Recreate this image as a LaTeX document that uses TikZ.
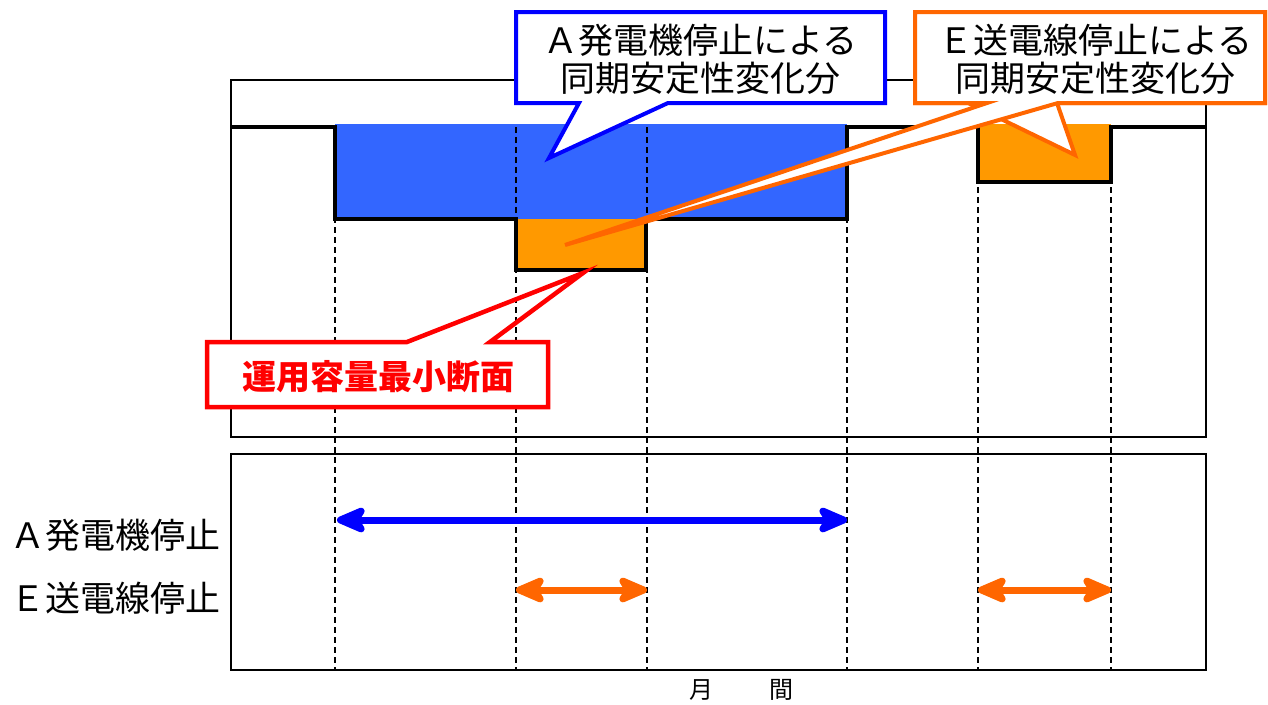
\documentclass[tikz,border=0pt]{standalone}
\usepackage{fontspec}
\setmainfont{Noto Sans CJK JP}
\usetikzlibrary{arrows.meta}

\definecolor{blockblue}{HTML}{3366FF}
\definecolor{blockorange}{HTML}{FF9900}
\definecolor{lineorange}{HTML}{FF6600}
\definecolor{pureblue}{HTML}{0000FF}
\definecolor{purered}{HTML}{FF0000}

\tikzset{
	frame/.style={line width=1.6pt,black},
	guide/.style={line width=2pt,dash pattern=on 6pt off 4pt,black},
	stepline/.style={line width=4.5pt,black,line join=miter},
	callout/.style={line width=4pt,line join=miter},
	headtip/.tip={Stealth[length=38pt,width=32pt,inset=10pt,round]},
	span/.style={line width=7pt,headtip-headtip},
	lbl/.style={font=\fontsize{35}{38}\selectfont,inner sep=0pt,align=center},
}

\begin{document}
\begin{tikzpicture}[x=1pt,y=-1pt]
	\useasboundingbox (0,0) rectangle (1268,704);
	
	% the two frames
	\draw[frame] (231,80) rectangle (1206,437);
	\draw[frame] (231,454) rectangle (1206,670);
	
	% shaded reductions
	\fill[blockblue] (335,124) rectangle (847,219);
	\fill[blockorange] (516,219) rectangle (646,270);
	\fill[blockorange] (978,124) rectangle (1111,182);
	
	\foreach \x in {335,516,647,847,978,1111}{% one guide per boundary
		\draw[guide] (\x,127) -- (\x,670);
	}
	
	\draw[stepline] (231,127) -- (335,127) -- (335,219) -- (516,219)
		-- (516,270) -- (646,270) -- (646,219) -- (847,219) -- (847,127)
		-- (978,127) -- (978,182) -- (1111,182) -- (1111,127) -- (1206,127);
	
	% outage spans
	\coordinate (Astart) at (337,520);
	\coordinate (Aend) at (847,520);
	\coordinate (Eonestart) at (516,590);
	\coordinate (Eoneend) at (647,590);
	\coordinate (Etwostart) at (978,590);
	\coordinate (Etwoend) at (1111,590);
	
	\draw[span,pureblue] (Astart) -- (Aend);
	\draw[span,lineorange] (Eonestart) -- (Eoneend);
	\draw[span,lineorange] (Etwostart) -- (Etwoend);
	
	\node[lbl,anchor=west] (Alabel) at (10,535) {Ａ発電機停止};
	\node[lbl,anchor=west] (Elabel) at (10,598) {Ｅ送電線停止};
	\node[font=\fontsize{24}{28}\selectfont,inner sep=0pt] (month) at (741,690) {月\hspace{56pt}間};
	
	% callout A
	\filldraw[callout,draw=pureblue,fill=white] (516,12) -- (885,12) -- (885,103) -- (668,103)
		-- (549,158) -- (579,103) -- (516,103) -- cycle;
	\node[lbl] (Anote) at (700,59) {Ａ発電機停止による\\同期安定性変化分};
	
	% callout E, two pointers on one box
	\filldraw[callout,draw=lineorange,fill=white] (915,12) -- (1265,12) -- (1265,103) -- (1057,103)
		-- (1075,155) -- (968,103) -- (915,103) -- cycle;
	\filldraw[callout,draw=lineorange,fill=white] (915,12) -- (1265,12) -- (1265,103) -- (1058,103)
		-- (565,245) -- (987,103) -- (915,103) -- cycle;
	\node[lbl] (Enote) at (1095,59) {Ｅ送電線停止による\\同期安定性変化分};
	
	% callout for the minimum section
	\fill[white] (207,342) rectangle (548,407);
	\draw[callout,line width=4.5pt,draw=purered] (207,342) -- (407,342) -- (583,273) -- (490,342)
		-- (548,342) -- (548,407) -- (207,407) -- cycle;
	\node[lbl,text=purered,font=\fontsize{34}{38}\selectfont\bfseries] (minnote) at (378,377) {運用容量最小断面};
	
\end{tikzpicture}
\end{document}
